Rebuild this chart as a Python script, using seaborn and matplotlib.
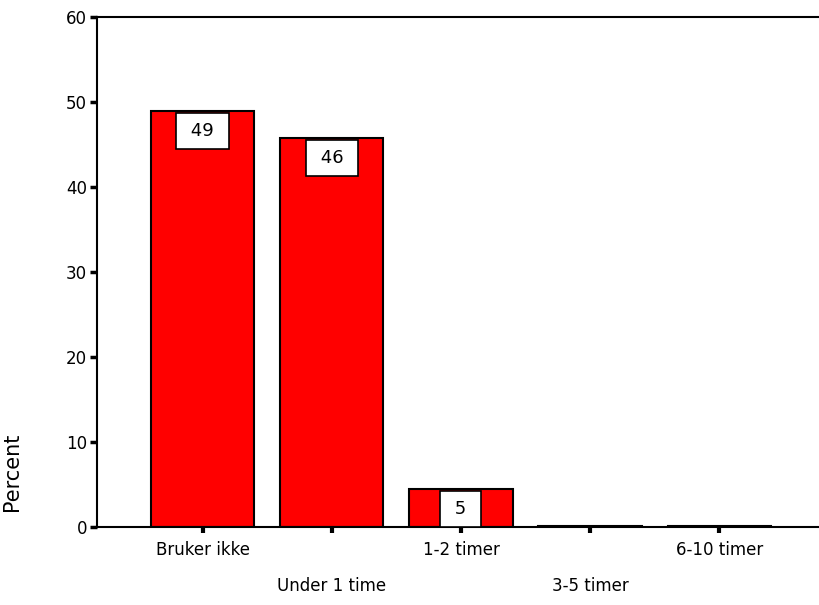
import matplotlib
matplotlib.use("Agg")
import matplotlib.pyplot as plt
import seaborn as sns

# data
categories = ["Bruker ikke", "Under 1 time", "1-2 timer", "3-5 timer", "6-10 timer"]
percent = [48.9, 45.8, 4.5, 0.15, 0.15]
shown = ["49", "46", "5", "", ""]
y_ticks = [0, 10, 20, 30, 40, 50, 60]

sns.set_style("white")
plt.rcParams["font.family"] = ["DejaVu Sans"]
plt.rcParams["text.color"] = "black"
plt.rcParams["axes.labelcolor"] = "black"
plt.rcParams["xtick.color"] = "black"
plt.rcParams["ytick.color"] = "black"

fig = plt.figure(figsize=(8.2, 6.05), dpi=100)
ax = fig.add_axes([0.118, 0.129, 0.882, 0.843])

sns.barplot(x=categories, y=percent, color="#ff0000", saturation=1, width=0.8,
            edgecolor="black", linewidth=1.5, ax=ax)

# value boxes at the top of each bar
for i, (v, s) in enumerate(zip(percent, shown)):
    if not s:
        continue
    ax.annotate(" " + s + " ", (i, v), xytext=(0, -11), textcoords="offset pixels",
                ha="center", va="top", fontsize=13, color="black",
                bbox=dict(boxstyle="square,pad=0.5", facecolor="white",
                          edgecolor="black", linewidth=1.2))

ax.set_ylim(0, 60)
ax.set_xlim(-0.82, 4.78)
ax.set_yticks(y_ticks)
ax.set_yticklabels([str(t) for t in y_ticks], fontsize=12)
ax.set_xticks(range(len(categories)))
ax.set_xticklabels(categories, fontsize=12)

ax.tick_params(axis="y", direction="out", length=5, width=2.5, color="black", pad=2, left=True)
ax.tick_params(axis="x", direction="out", length=4, width=3, color="black", bottom=True)
for i, tick in enumerate(ax.xaxis.get_major_ticks()):
    tick.set_pad(6 if i % 2 == 0 else 32)

for side in ["left", "bottom", "top"]:
    ax.spines[side].set_visible(True)
    ax.spines[side].set_color("black")
    ax.spines[side].set_linewidth(1.5)
ax.spines["right"].set_visible(False)

ax.set_xlabel("")
ax.set_ylabel("Percent", fontsize=15)
ax.yaxis.set_label_coords(-0.104, 0.108)
ax.grid(False)

fig.savefig("out.png", dpi=100)
